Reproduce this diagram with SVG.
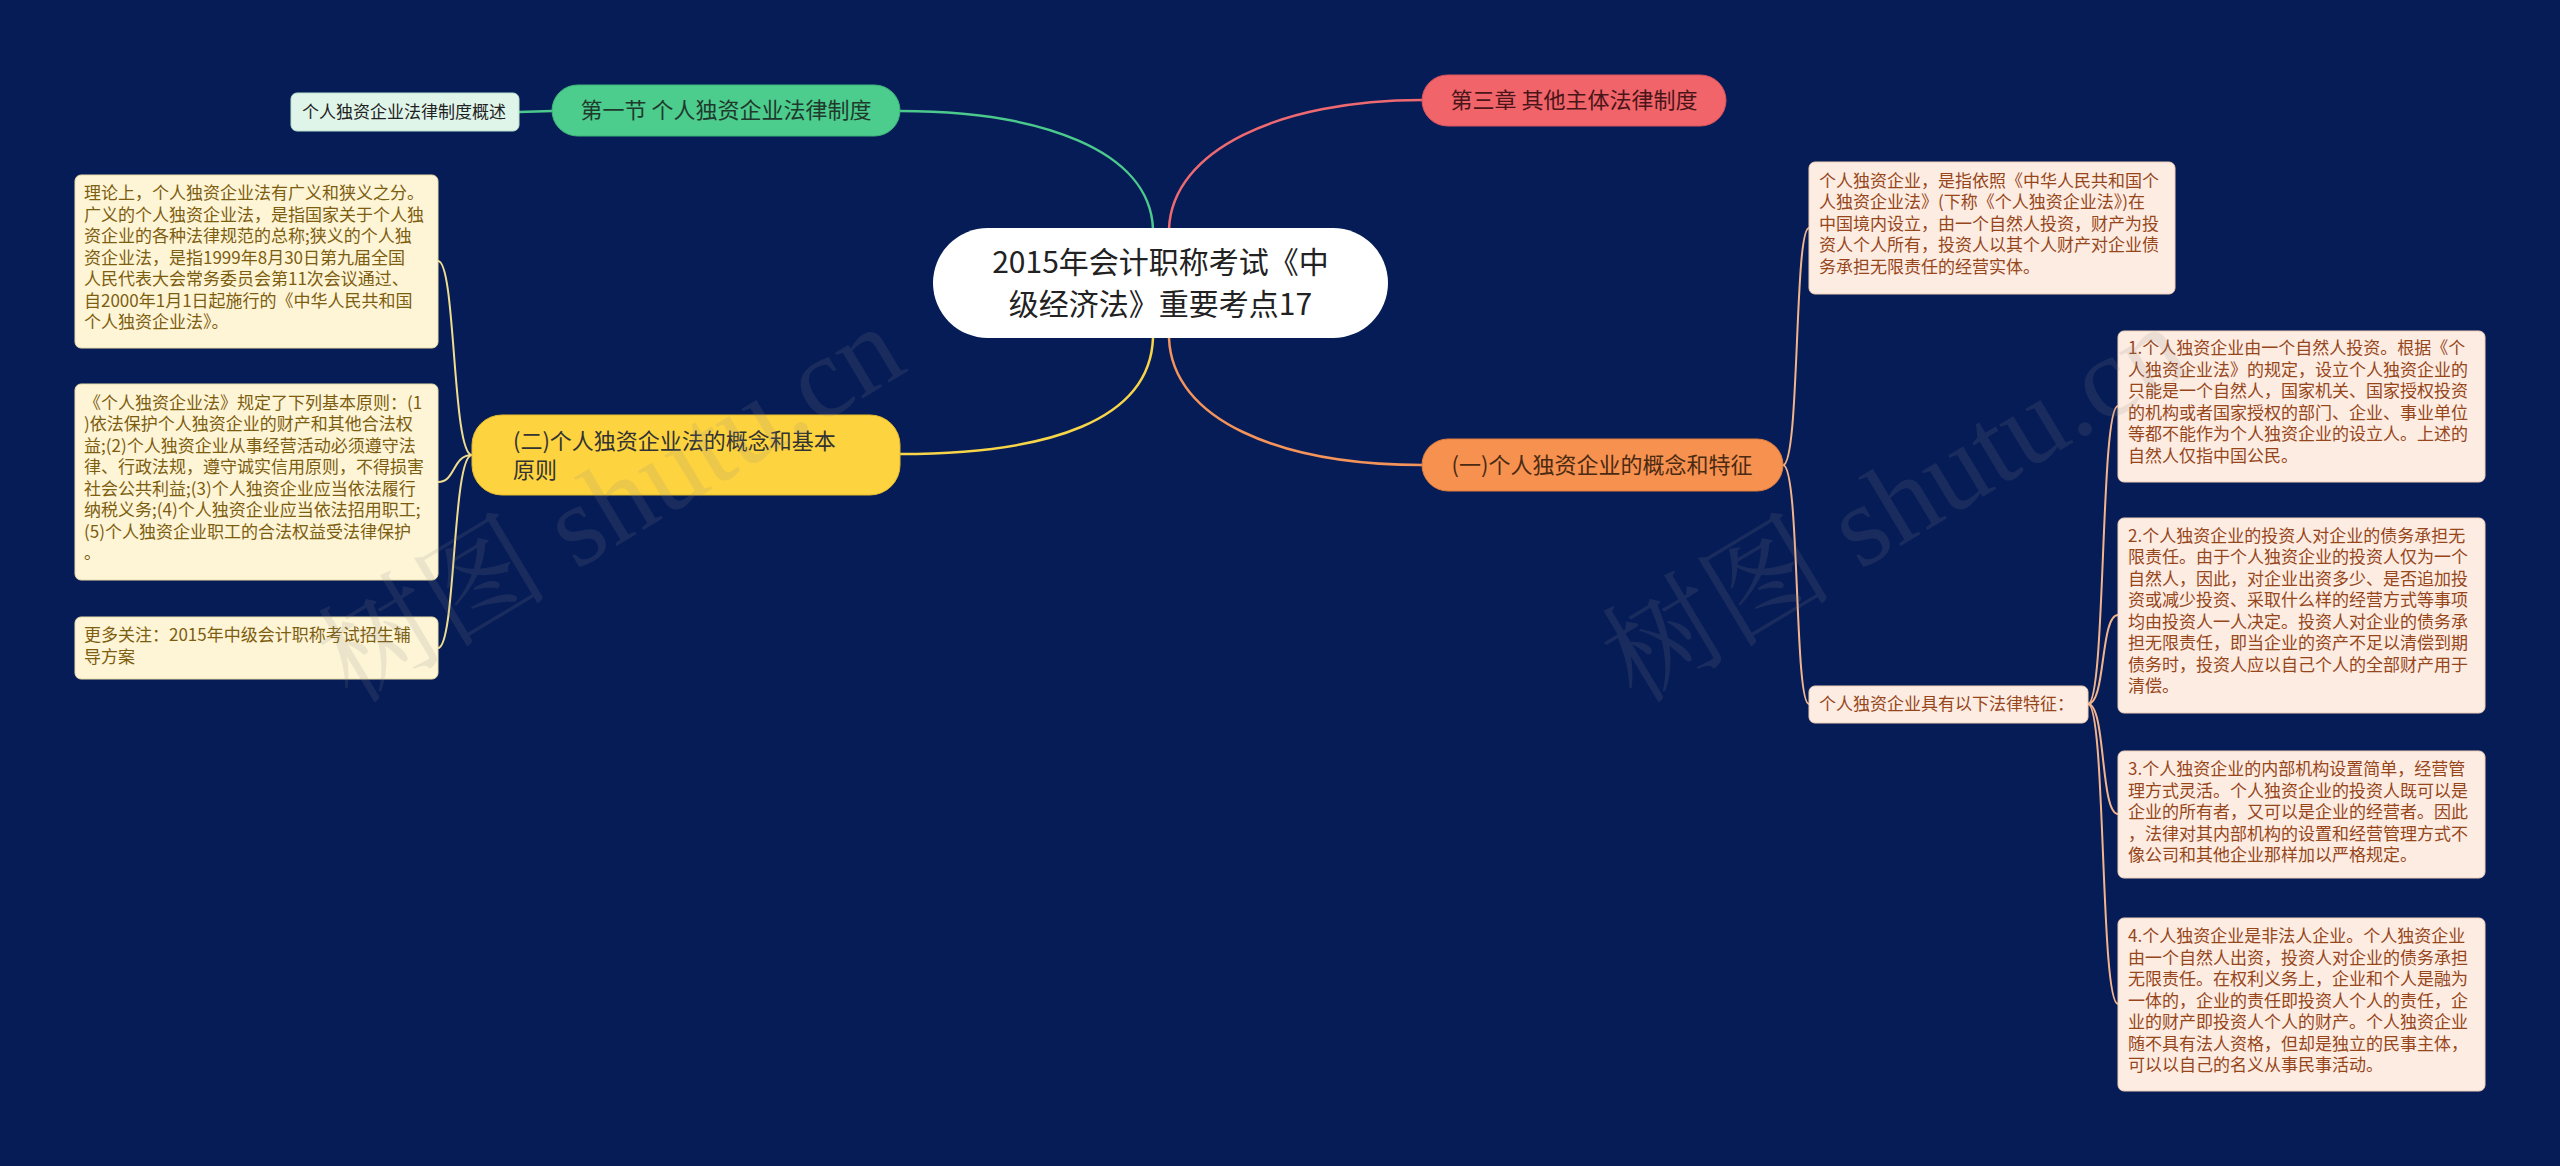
<svg xmlns="http://www.w3.org/2000/svg" width="2560" height="1166" viewBox="0 0 2560 1166">
<style>
text{font-family:"Noto Sans CJK SC","Noto Sans",sans-serif;}
.leafL rect{fill:#fdf5d6;stroke:#e9dca8;stroke-width:1}
.leafL text{font-size:17px;fill:#7d5d10}
.leafR rect{fill:#fdece2;stroke:#efcfb8;stroke-width:1}
.leafR text{font-size:17px;fill:#96461a}
.main text{font-size:22px}
.conn path{fill:none;stroke-linecap:round}
.wm{font-family:"Liberation Serif","Noto Serif CJK SC",serif;font-size:116px;fill:#8a8a8a;opacity:0.15}
</style>
<rect x="0" y="0" width="2560" height="1166" fill="#061c57"/>

<g id="connectors" class="conn">
  <path d="M900,111 C1040,111 1150,150 1153,229" stroke="#4cc98c" stroke-width="2.5"/>
  <path d="M1169,229 C1172,150 1280,100 1422,100" stroke="#ee6a70" stroke-width="2.5"/>
  <path d="M1153,338 C1150,420 1050,454 900,454" stroke="#f7d548" stroke-width="2.5"/>
  <path d="M1169,338 C1172,420 1280,465 1422,465" stroke="#f4935a" stroke-width="2.5"/>
  <path d="M552,111 L519,112" stroke="#4cc98c" stroke-width="2.5"/>
  <path d="M472,455 C452,455 456,261 438,261" stroke="#efdc8e" stroke-width="2"/>
  <path d="M472,455 C452,455 456,482 438,482" stroke="#efdc8e" stroke-width="2"/>
  <path d="M472,455 C452,455 456,648 438,648" stroke="#efdc8e" stroke-width="2"/>
  <path d="M1783,465 C1800,465 1794,228 1809,228" stroke="#f2b48c" stroke-width="2"/>
  <path d="M1783,465 C1800,465 1794,704 1809,704" stroke="#f2b48c" stroke-width="2"/>
  <path d="M2088,704 C2106,704 2100,406 2118,406" stroke="#f2b48c" stroke-width="2"/>
  <path d="M2088,704 C2106,704 2100,615 2118,615" stroke="#f2b48c" stroke-width="2"/>
  <path d="M2088,704 C2106,704 2100,814 2118,814" stroke="#f2b48c" stroke-width="2"/>
  <path d="M2088,704 C2106,704 2100,1004 2118,1004" stroke="#f2b48c" stroke-width="2"/>
</g>

<g id="center">
  <rect x="933" y="228" width="455" height="110" rx="55" fill="#ffffff"/>
  <text x="1160.5" y="273" font-size="30" fill="#222222" text-anchor="middle">2015年会计职称考试《中</text>
  <text x="1160.5" y="315" font-size="30" fill="#222222" text-anchor="middle">级经济法》重要考点17</text>
</g>

<g id="n-section1" class="main">
  <rect x="552" y="85" width="348" height="51" rx="25.5" fill="#4ccc8d" stroke="#3db57a" stroke-width="1"/>
  <text x="726" y="118" text-anchor="middle" fill="#1f3a2c">第一节 个人独资企业法律制度</text>
</g>
<g id="n-overview">
  <rect x="291" y="93" width="228" height="38" rx="6" fill="#e0f5ea" stroke="#b8e3cc" stroke-width="1"/>
  <text x="302" y="118" font-size="17" fill="#222222">个人独资企业法律制度概述</text>
</g>

<g id="n-chapter3" class="main">
  <rect x="1422" y="75" width="304" height="51" rx="25.5" fill="#f0646a" stroke="#d9535a" stroke-width="1"/>
  <text x="1574" y="108" text-anchor="middle" fill="#4a1518">第三章 其他主体法律制度</text>
</g>

<g id="n-principles" class="main">
  <rect x="472" y="415" width="428" height="80" rx="30" fill="#fdd33f" stroke="#e6bb2c" stroke-width="1"/>
  <text x="513" y="449" fill="#333333">(二)个人独资企业法的概念和基本</text>
  <text x="513" y="478" fill="#333333">原则</text>
</g>

<g id="n-concept" class="main">
  <rect x="1422" y="439" width="361" height="52" rx="26" fill="#f79150" stroke="#e07c3c" stroke-width="1"/>
  <text x="1602" y="473" text-anchor="middle" fill="#4a2a12">(一)个人独资企业的概念和特征</text>
</g>

<g id="l-theory" class="leafL">
  <rect x="75" y="175" width="363" height="173" rx="6"/>
  <text x="84" y="199">理论上，个人独资企业法有广义和狭义之分。</text>
  <text x="84" y="220.5">广义的个人独资企业法，是指国家关于个人独</text>
  <text x="84" y="242">资企业的各种法律规范的总称;狭义的个人独</text>
  <text x="84" y="263.5">资企业法，是指1999年8月30日第九届全国</text>
  <text x="84" y="285">人民代表大会常务委员会第11次会议通过、</text>
  <text x="84" y="306.5">自2000年1月1日起施行的《中华人民共和国</text>
  <text x="84" y="328">个人独资企业法》。</text>
</g>

<g id="l-basic" class="leafL">
  <rect x="75" y="384" width="363" height="196" rx="6"/>
  <text x="84" y="408.5">《个人独资企业法》规定了下列基本原则：(1</text>
  <text x="84" y="430">)依法保护个人独资企业的财产和其他合法权</text>
  <text x="84" y="451.5">益;(2)个人独资企业从事经营活动必须遵守法</text>
  <text x="84" y="473">律、行政法规，遵守诚实信用原则，不得损害</text>
  <text x="84" y="494.5">社会公共利益;(3)个人独资企业应当依法履行</text>
  <text x="84" y="516">纳税义务;(4)个人独资企业应当依法招用职工;</text>
  <text x="84" y="537.5">(5)个人独资企业职工的合法权益受法律保护</text>
  <text x="84" y="559">。</text>
</g>

<g id="l-more" class="leafL">
  <rect x="75" y="617" width="363" height="62" rx="6"/>
  <text x="84" y="641">更多关注：2015年中级会计职称考试招生辅</text>
  <text x="84" y="662.5">导方案</text>
</g>

<g id="r-definition" class="leafR">
  <rect x="1809" y="162" width="366" height="132" rx="6"/>
  <text x="1819" y="186.5">个人独资企业，是指依照《中华人民共和国个</text>
  <text x="1819" y="208">人独资企业法》(下称《个人独资企业法》)在</text>
  <text x="1819" y="229.5">中国境内设立，由一个自然人投资，财产为投</text>
  <text x="1819" y="251">资人个人所有，投资人以其个人财产对企业债</text>
  <text x="1819" y="272.5">务承担无限责任的经营实体。</text>
</g>

<g id="r-features" class="leafR">
  <rect x="1809" y="686" width="279" height="37" rx="6"/>
  <text x="1819" y="710">个人独资企业具有以下法律特征：</text>
</g>

<g id="r-f1" class="leafR">
  <rect x="2118" y="331" width="367" height="151" rx="6"/>
  <text x="2128" y="354">1.个人独资企业由一个自然人投资。根据《个</text>
  <text x="2128" y="375.5">人独资企业法》的规定，设立个人独资企业的</text>
  <text x="2128" y="397">只能是一个自然人，国家机关、国家授权投资</text>
  <text x="2128" y="418.5">的机构或者国家授权的部门、企业、事业单位</text>
  <text x="2128" y="440">等都不能作为个人独资企业的设立人。上述的</text>
  <text x="2128" y="461.5">自然人仅指中国公民。</text>
</g>

<g id="r-f2" class="leafR">
  <rect x="2118" y="518" width="367" height="195" rx="6"/>
  <text x="2128" y="541.5">2.个人独资企业的投资人对企业的债务承担无</text>
  <text x="2128" y="563">限责任。由于个人独资企业的投资人仅为一个</text>
  <text x="2128" y="584.5">自然人，因此，对企业出资多少、是否追加投</text>
  <text x="2128" y="606">资或减少投资、采取什么样的经营方式等事项</text>
  <text x="2128" y="627.5">均由投资人一人决定。投资人对企业的债务承</text>
  <text x="2128" y="649">担无限责任，即当企业的资产不足以清偿到期</text>
  <text x="2128" y="670.5">债务时，投资人应以自己个人的全部财产用于</text>
  <text x="2128" y="692">清偿。</text>
</g>

<g id="r-f3" class="leafR">
  <rect x="2118" y="751" width="367" height="127" rx="6"/>
  <text x="2128" y="775">3.个人独资企业的内部机构设置简单，经营管</text>
  <text x="2128" y="796.5">理方式灵活。个人独资企业的投资人既可以是</text>
  <text x="2128" y="818">企业的所有者，又可以是企业的经营者。因此</text>
  <text x="2128" y="839.5">，法律对其内部机构的设置和经营管理方式不</text>
  <text x="2128" y="861">像公司和其他企业那样加以严格规定。</text>
</g>

<g id="r-f4" class="leafR">
  <rect x="2118" y="918" width="367" height="173" rx="6"/>
  <text x="2128" y="942">4.个人独资企业是非法人企业。个人独资企业</text>
  <text x="2128" y="963.5">由一个自然人出资，投资人对企业的债务承担</text>
  <text x="2128" y="985">无限责任。在权利义务上，企业和个人是融为</text>
  <text x="2128" y="1006.5">一体的，企业的责任即投资人个人的责任，企</text>
  <text x="2128" y="1028">业的财产即投资人个人的财产。个人独资企业</text>
  <text x="2128" y="1049.5">随不具有法人资格，但却是独立的民事主体，</text>
  <text x="2128" y="1071">可以以自己的名义从事民事活动。</text>
</g>

<g id="watermark">
  <text class="wm" transform="translate(352,705) rotate(-31)">树图 shutu.cn</text>
  <text class="wm" transform="translate(1636,705) rotate(-31)">树图 shutu.cn</text>
</g>
</svg>
